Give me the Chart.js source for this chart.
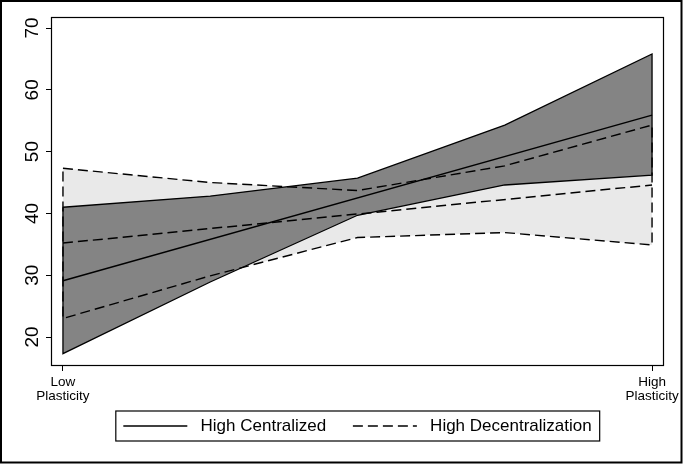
<!DOCTYPE html>
<html><head><meta charset="utf-8">
<script src="https://cdn.jsdelivr.net/npm/chart.js@4.4.1/dist/chart.umd.min.js"></script>
<style>html,body{margin:0;padding:0;background:#fff}#wrap{width:684px;height:464px;position:relative}</style>
</head><body><div id="wrap"><canvas id="c" width="684" height="464"></canvas></div>
<script>
// ---- data ----
const plasticityPos = [0, 0.25, 0.5, 0.75, 1];
const meanPos = [0, 1];
const xTickLabels = [["Low", "Plasticity"], ["High", "Plasticity"]];
const yTickValues = [20, 30, 40, 50, 60, 70];
const seriesNames = ["High Centralized", "High Decentralization"];
const centMean = [29.1, 55.9];
const decMean = [35.2, 44.6];
const centUpper = [41.0, 42.8, 45.7, 54.3, 65.8];
const centLower = [17.3, 28.9, 39.7, 44.6, 46.2];
const decUpper = [47.3, 45.0, 43.7, 47.7, 54.3];
const decLower = [23.0, 29.9, 36.1, 36.9, 34.9];

const FAMILY = "'Liberation Sans', Arial, sans-serif";
const DASH = [10, 5];
Chart.defaults.font.family = FAMILY;
Chart.defaults.color = '#000';

function band(upper, lower) {
  const pts = [];
  plasticityPos.forEach((x, i) => pts.push({x, y: upper[i]}));
  for (let i = plasticityPos.length - 1; i >= 0; i--) pts.push({x: plasticityPos[i], y: lower[i]});
  pts.push({x: plasticityPos[0], y: upper[0]});
  return pts;
}
function line(xs, ys) { return xs.map((x, i) => ({x, y: ys[i]})); }

const framePlugin = {
  id: 'frame',
  beforeDraw(chart) {
    const c = chart.ctx;
    c.save(); c.fillStyle = '#fff'; c.fillRect(0, 0, chart.width, chart.height); c.restore();
  },
  afterDraw(chart) {
    const c = chart.ctx, a = chart.chartArea;
    c.save();
    c.strokeStyle = '#000';
    c.lineWidth = 1.2;
    c.strokeRect(a.left - 0.5, a.top - 0.5, a.right - a.left + 1, a.bottom - a.top + 1);
    // legend box
    const hb = chart.legend.legendHitBoxes;
    if (hb && hb.length) {
      const f = hb[0], l = hb[hb.length - 1];
      const cy = f.top + f.height / 2;
      c.lineWidth = 1.2;
      c.strokeRect(f.left - 7.5, cy - 15, (l.left + l.width + 8) - (f.left - 7.5), 30);
    }
    c.lineWidth = 2;
    c.strokeRect(1, 1, 680.5, 461.5);
    c.restore();
  }
};

new Chart(document.getElementById('c'), {
  type: 'scatter',
  data: {
    datasets: [
      {label: seriesNames[0], data: line(meanPos, centMean), showLine: true, borderColor: '#000', borderWidth: 1.5, pointRadius: 0, fill: false, order: 1},
      {label: seriesNames[1], data: line(meanPos, decMean), showLine: true, borderColor: '#000', borderWidth: 1.5, borderDash: DASH, pointRadius: 0, fill: false, order: 2},
      {data: band(centUpper, centLower), showLine: true, borderColor: '#000', borderWidth: 1.3, pointRadius: 0, fill: false, order: 3},
      {data: band(decUpper, decLower), showLine: true, borderColor: '#000', borderWidth: 1.4, borderDash: DASH, pointRadius: 0, fill: false, order: 4},
      {data: band(centUpper, centLower), showLine: true, borderColor: 'rgba(0,0,0,0)', borderWidth: 1, pointRadius: 0, backgroundColor: '#848484', fill: 'shape', order: 5},
      {data: band(decUpper, decLower), showLine: true, borderColor: 'rgba(0,0,0,0)', borderWidth: 1, pointRadius: 0, backgroundColor: '#e9e9e9', fill: 'shape', order: 6}
    ]
  },
  options: {
    responsive: false,
    animation: false,
    events: [],
    layout: {autoPadding: false, padding: {left: 0, top: 18, right: 21, bottom: 19.5}},
    plugins: {
      tooltip: {enabled: false},
      legend: {
        display: true,
        position: 'bottom',
        fullSize: false,
        labels: {
          usePointStyle: true,
          pointStyleWidth: 64,
          padding: 12.5,
          color: '#000',
          font: {size: 17, family: FAMILY},
          generateLabels: () => seriesNames.map((t, i) => ({
            text: ' ' + t + (i === 0 ? '   ' : ''), fillStyle: '#000', strokeStyle: '#000', lineWidth: 1.5,
            lineDash: i ? DASH : [], pointStyle: 'line', hidden: false, datasetIndex: i, fontColor: '#000'
          }))
        }
      }
    },
    scales: {
      x: {
        type: 'linear',
        min: -0.0186, max: 1.0186,
        afterBuildTicks: s => { s.ticks = meanPos.map(v => ({value: v})); },
        afterFit: s => { s.height = 40; },
        ticks: {
          autoSkip: false, maxRotation: 0, minRotation: 0, padding: 4, color: '#000',
          font: {size: 13.5, family: FAMILY, lineHeight: 1.06},
          callback: (v, i) => xTickLabels[i]
        },
        grid: {drawOnChartArea: false, drawTicks: true, tickLength: 6, color: '#000', lineWidth: 1},
        border: {display: false}
      },
      y: {
        type: 'linear',
        min: 15.47, max: 71.62,
        afterBuildTicks: s => { s.ticks = yTickValues.map(v => ({value: v})); },
        afterFit: s => { s.width = 52; },
        ticks: {
          autoSkip: false, minRotation: 90, maxRotation: 90, crossAlign: 'center', padding: 3, color: '#000',
          font: {size: 19, family: FAMILY}
        },
        grid: {drawOnChartArea: false, drawTicks: true, tickLength: 6, color: '#000', lineWidth: 1},
        border: {display: false}
      }
    }
  },
  plugins: [framePlugin]
});
</script>
</body></html>
